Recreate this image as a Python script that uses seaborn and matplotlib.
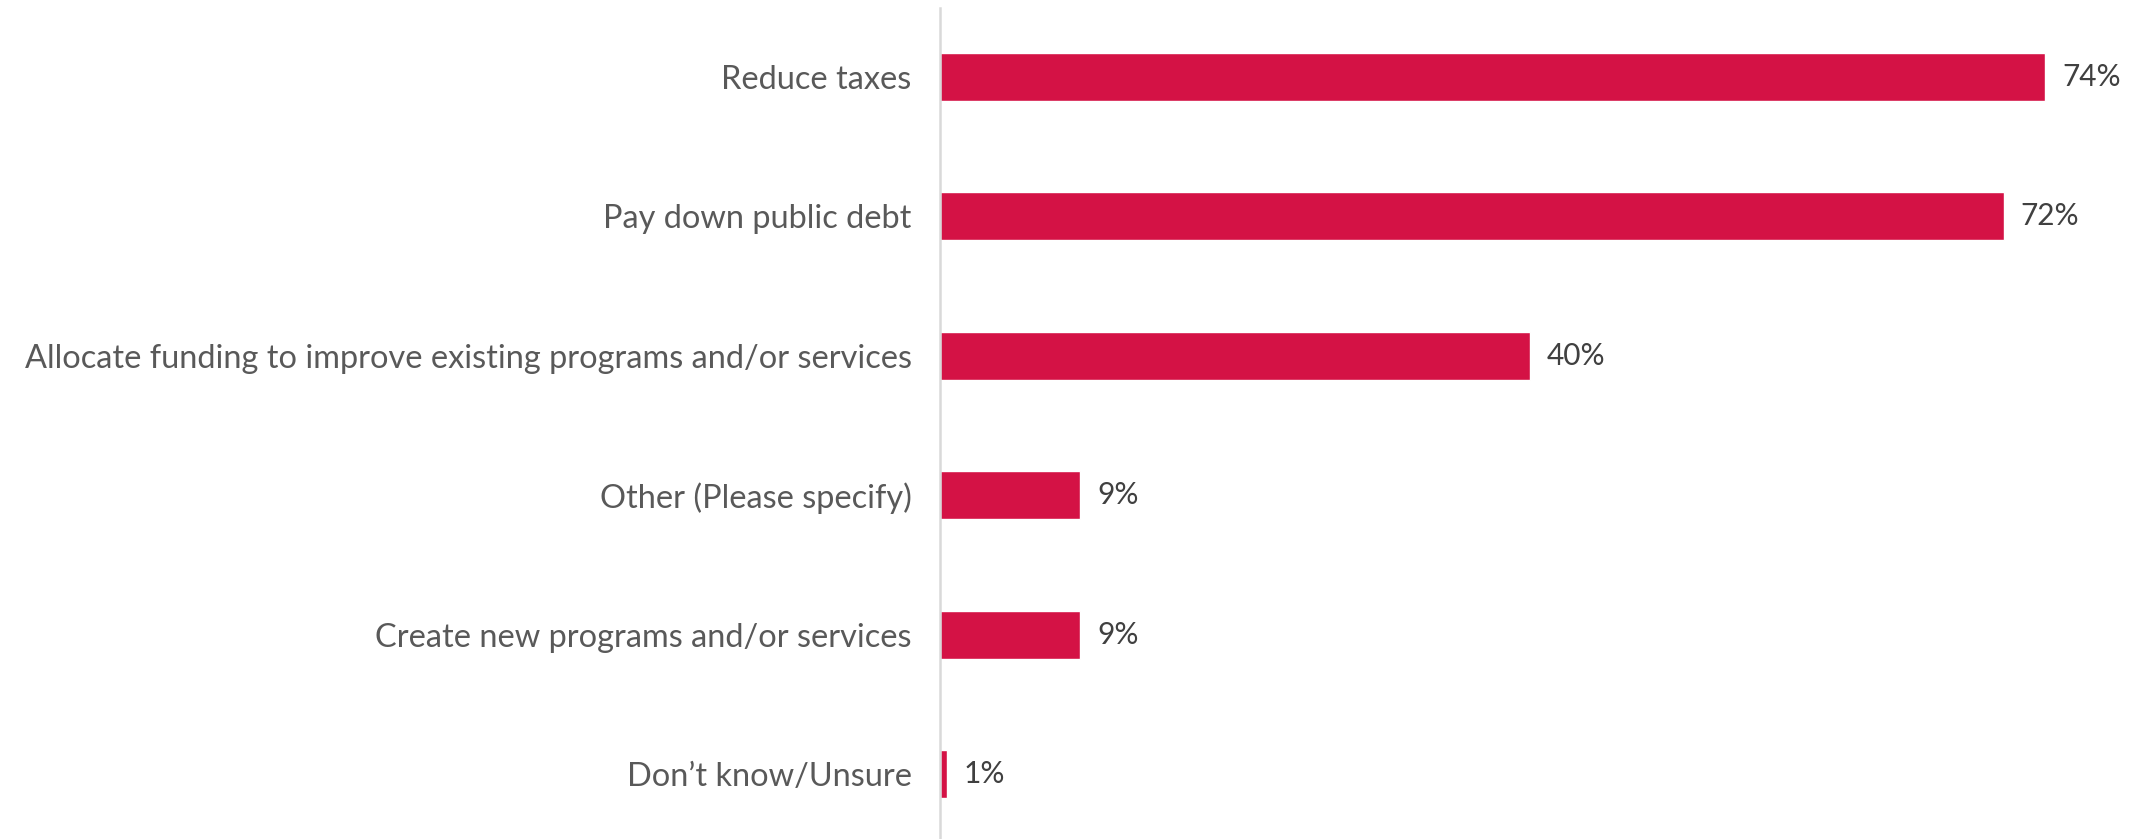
import matplotlib
matplotlib.use("Agg")
import matplotlib.pyplot as plt
import seaborn as sns
import pandas as pd

categories = [
    "Reduce taxes",
    "Pay down public debt",
    "Allocate funding to improve existing programs and/or services",
    "Other (Please specify)",
    "Create new programs and/or services",
    "Don\u2019t know/Unsure",
]
values = [74.0, 71.2, 39.5, 9.4, 9.4, 0.5]
value_labels = ["74%", "72%", "40%", "9%", "9%", "1%"]

df = pd.DataFrame({"category": categories, "value": values})

sns.set_theme(style="white")
plt.rcParams["font.family"] = ["Lato", "DejaVu Sans"]

fig = plt.figure(figsize=(21.41, 8.39), dpi=100)
ax = fig.add_axes([939.5 / 2141, 0.0, 1 - 939.5 / 2141, (839 - 8) / 839])

sns.barplot(data=df, x="value", y="category", orient="h", color="#D41245",
            width=0.344, saturation=1, ax=ax)

ax.set_xlim(0, 80.4)
ax.set_ylim(5.466, -0.492)
ax.set_xlabel("")
ax.set_ylabel("")
ax.set_xticks([])
for s in ["top", "right", "bottom"]:
    ax.spines[s].set_visible(False)
ax.spines["left"].set_color("#D9D9D9")
ax.spines["left"].set_linewidth(1.8)
ax.tick_params(axis="y", length=0, pad=20, labelsize=23.4, labelcolor="#595959")

for i, (v, lab) in enumerate(zip(values, value_labels)):
    ax.annotate(lab, xy=(v, i), xytext=(17, 0), textcoords="offset pixels",
                ha="left", va="center", fontsize=21.5, color="#404040")

fig.savefig("out.png", dpi=100)
